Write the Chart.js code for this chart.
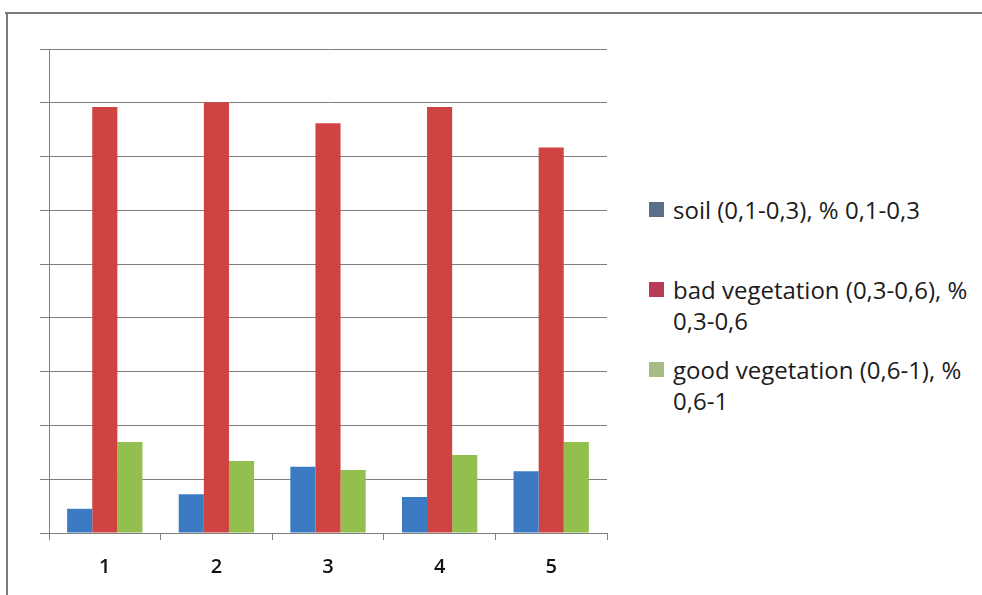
<!DOCTYPE html>
<html>
<head>
<meta charset="utf-8">
<script src="https://cdn.jsdelivr.net/npm/chart.js@4/dist/chart.umd.min.js"></script>
<style>
  html, body { margin: 0; padding: 0; background: #fff; }
  body { width: 982px; height: 595px; position: relative; overflow: hidden; font-family: "Open Sans", sans-serif; }
  #frameTop { position: absolute; left: 5px; top: 12px; width: 977px; height: 0; border-top: 2px solid #7a7a7a; }
  #frameLeft { position: absolute; left: 6px; top: 12px; width: 0; height: 583px; border-left: 2px solid #7a7a7a; }
  #wrap { position: absolute; left: 0; top: 0; width: 620px; height: 595px; }
  #legend { position: absolute; left: 649px; top: 0; }
  .item { position: absolute; left: 0; display: flex; align-items: flex-start; }
  .box { width: 15px; height: 15px; margin-top: 8px; margin-right: 9px; flex: none; }
  .txt { width: 300px; font-size: 24px; line-height: 31px; color: #1c1c1c; }
</style>
</head>
<body>
<div id="frameTop"></div>
<div id="frameLeft"></div>
<div id="wrap"><canvas id="barChart" width="620" height="595"></canvas></div>
<div id="legend"></div>
<script>
// categories and series (percent of area per class)
const categories = ['1', '2', '3', '4', '5'];
const soil = [4.5, 7.2, 12.3, 6.7, 11.5];
const badVegetation = [79.2, 80.1, 76.2, 79.2, 71.7];
const goodVegetation = [16.9, 13.4, 11.7, 14.5, 16.9];
const seriesLabels = [
  'soil (0,1-0,3), % 0,1-0,3',
  'bad vegetation (0,3-0,6), % 0,3-0,6',
  'good vegetation (0,6-1), % 0,6-1'
];
const yMax = 90;
const yStep = 10;

const barColors = ['#3c7bc4', '#d04343', '#93bf4e'];
const legendColors = ['#5b6f89', '#b93c56', '#a5bd84'];

const ctx = document.getElementById('barChart').getContext('2d');
new Chart(ctx, {
  type: 'bar',
  data: {
    labels: categories,
    datasets: [soil, badVegetation, goodVegetation].map((d, i) => ({
      label: seriesLabels[i],
      data: d,
      backgroundColor: barColors[i],
      borderWidth: 0,
      categoryPercentage: 0.675,
      barPercentage: 1
    }))
  },
  options: {
    responsive: false,
    animation: false,
    layout: { padding: { top: 49, right: 13, left: 0, bottom: 0 } },
    plugins: { legend: { display: false }, tooltip: { enabled: false } },
    scales: {
      x: {
        grid: { offset: true, drawOnChartArea: false, drawTicks: true, tickLength: 7, color: '#7f7f7f' },
        border: { color: '#7f7f7f', width: 1 },
        ticks: { color: '#111', font: { family: 'Open Sans', size: 20, weight: '600' }, padding: 15 },
        afterFit: s => { s.height = 62; }
      },
      y: {
        min: 0,
        max: yMax,
        ticks: { display: false, stepSize: yStep },
        grid: { color: '#7f7f7f', tickLength: 9, drawTicks: true },
        border: { color: '#7f7f7f', width: 1 },
        afterFit: s => { s.width = 49; }
      }
    }
  }
});

// legend on the right
const legend = document.getElementById('legend');
legend.innerHTML = seriesLabels.map((t, i) =>
  `<div class="item" style="top:${194 + i * 80}px"><span class="box" style="background:${legendColors[i]}"></span><span class="txt">${t}</span></div>`
).join('');
</script>
</body>
</html>
